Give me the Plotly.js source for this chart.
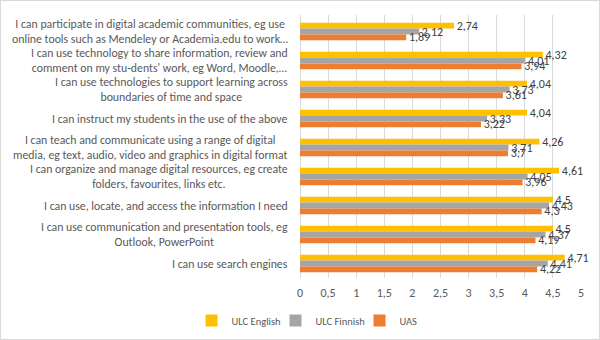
<!DOCTYPE html>
<html><head><meta charset="utf-8">
<script src="https://cdn.plot.ly/plotly-3.0.1.min.js"></script>
<style>
html,body{margin:0;padding:0;background:#fff;}
#chart{width:598px;height:338px;border:1px solid #d9d9d9;}
</style></head>
<body><div id="chart"></div>
<script>
const categories = [
  "I can participate in digital academic communities, eg use<br>online tools such as Mendeley or Academia.edu to work…",
  "I can use technology to share information, review and<br>comment on my stu-dents' work, eg Word, Moodle,…",
  "I can use technologies to support learning across<br>boundaries of time and space",
  "I can instruct my students in the use of the above",
  "I can teach and communicate using a range of digital<br>media, eg text, audio, video and graphics in digital format",
  "I can organize and manage digital resources, eg create<br>folders, favourites, links etc.",
  "I can use, locate, and access the information I need",
  "I can use communication and presentation tools, eg<br>Outlook, PowerPoint",
  "I can use search engines"
];
const seriesNames = ["ULC English", "ULC Finnish", "UAS"];
const ulcEnglish = [2.74, 4.32, 4.04, 4.04, 4.26, 4.61, 4.5, 4.5, 4.71];
const ulcFinnish = [2.12, 4.01, 3.73, 3.33, 3.71, 4.05, 4.43, 4.37, 4.41];
const uas = [1.89, 3.94, 3.61, 3.22, 3.7, 3.96, 4.3, 4.19, 4.22];
const xTicks = [0, 0.5, 1, 1.5, 2, 2.5, 3, 3.5, 4, 4.5, 5];

const colors = ["#FFC000", "#A5A5A5", "#ED7D31"];
const fmt = v => String(v).replace('.', ',');
const FONT = "Carlito, Calibri, 'Liberation Sans', sans-serif";

const traces = [ulcEnglish, ulcFinnish, uas].map((vals, i) => ({
  type: 'bar', orientation: 'h',
  name: seriesNames[i],
  y: categories, x: vals,
  text: vals.map(v => '\u00a0' + fmt(v)),
  textposition: 'outside',
  constraintext: 'none',
  cliponaxis: false,
  textfont: {family: FONT, size: 12, color: '#404040'},
  marker: {color: colors[i]},
  hoverinfo: 'x+name'
}));

const annotations = categories.map(c => ({
  xref: 'paper', yref: 'y', x: -0.035, y: c,
  xanchor: 'right', yanchor: 'middle', align: 'center',
  text: c, showarrow: false,
  font: {family: FONT, size: 11.8, color: '#595959'}
}));

const layout = {
  width: 598, height: 338,
  margin: {l: 299, r: 18, t: 14, b: 61},
  separators: ', ',
  barmode: 'group', bargap: 0.39, bargroupgap: 0,
  paper_bgcolor: '#fff', plot_bgcolor: '#fff',
  font: {family: FONT, color: '#595959', size: 12},
  xaxis: {
    range: [0, 5], tickvals: xTicks, ticktext: xTicks.map(fmt),
    showgrid: true, gridcolor: '#D9D9D9', gridwidth: 1,
    zeroline: true, zerolinecolor: '#D9D9D9', zerolinewidth: 1,
    showline: false, ticks: '', ticklabelstandoff: 6, automargin: false,
    tickfont: {family: FONT, size: 12, color: '#595959'}
  },
  yaxis: {
    type: 'category', autorange: 'reversed',
    showticklabels: false, showgrid: false, zeroline: false, ticks: ''
  },
  showlegend: true,
  legend: {
    orientation: 'h', xref: 'paper', x: -0.386, xanchor: 'left',
    yref: 'container', y: 0.055, yanchor: 'middle',
    font: {family: FONT, size: 10.5, color: '#595959'},
    traceorder: 'normal', itemwidth: 30, entrywidth: 39
  },
  annotations: annotations
};

Plotly.newPlot('chart', traces, layout, {displayModeBar: false, staticPlot: true});
</script>
</body></html>
